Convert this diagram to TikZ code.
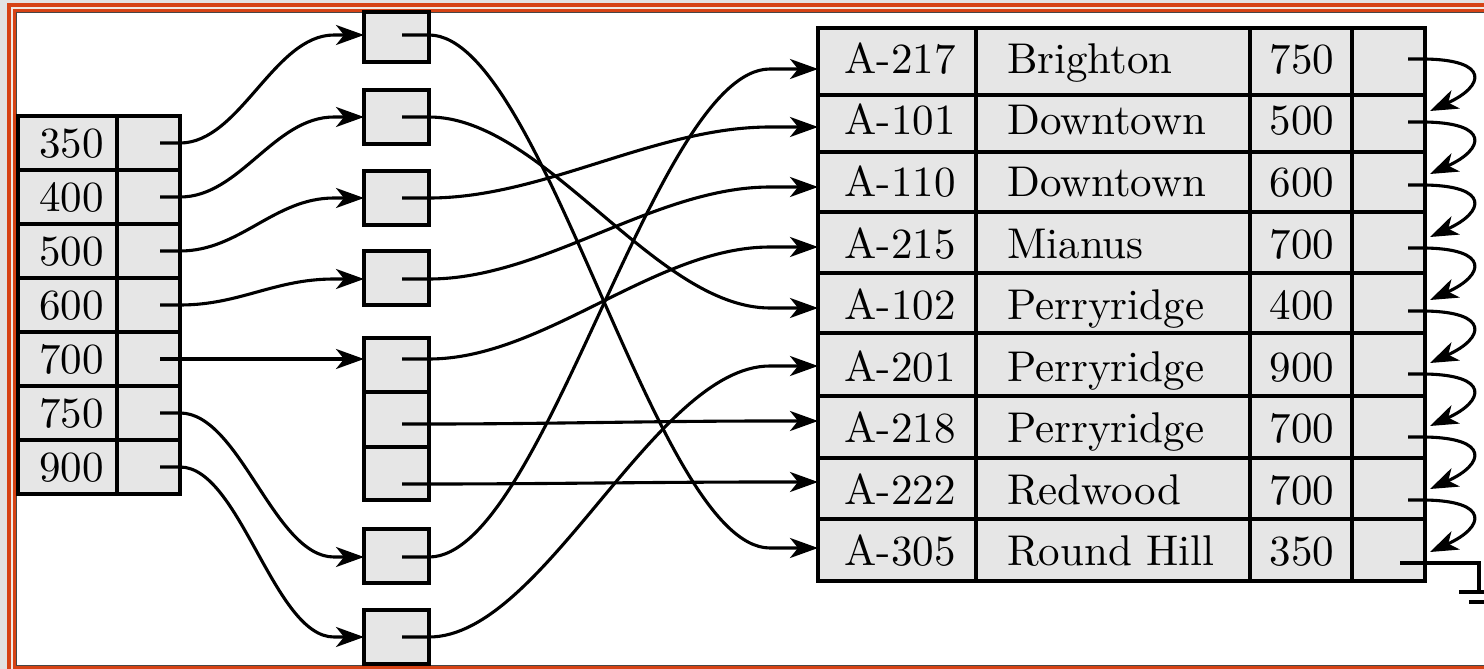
\documentclass[tikz,border=0pt]{standalone}
\usepackage{fontspec}
\setmainfont{lmroman10-regular}[Extension=.otf]
\usetikzlibrary{arrows.meta,calc}
\definecolor{cellgray}{RGB}{230,230,230}
\definecolor{framered}{RGB}{214,66,20}
\definecolor{bggray}{RGB}{226,226,226}
\definecolor{gapgray}{RGB}{240,232,226}
\definecolor{framedark}{RGB}{70,70,70}
\begin{document}
\begin{tikzpicture}[x=1pt,y=-1pt,
  cell/.style={draw=black, fill=cellgray, line width=3.4pt, inner sep=0pt, outer sep=0pt, anchor=north west},
  lbl/.style={font=\fontsize{43}{50}\selectfont, inner sep=0pt},
  ptr/.style={line width=3.2pt},
  link/.style={line width=3.1pt, -{Stealth[length=28pt,width=20pt,inset=8pt]}}]
\useasboundingbox (0,0) rectangle (1484,669);
% frame
\fill[bggray] (0,0) rectangle (1484,669);
\fill[framered] (7,3) rectangle (1500,700);
\fill[gapgray] (11,7) rectangle (1500,700);
\fill[framered] (13,9) rectangle (1500,669);
\fill[framedark] (16,12) rectangle (1500,665.6);
\fill[white] (17,13) rectangle (1500,664.6);
% index table
\foreach \v [count=\i] in {350,400,500,600,700,750,900}{
  \pgfmathsetmacro\yt{116+54*(\i-1)}
  \node[cell, minimum width=99pt, minimum height=54pt] (ik\i) at (18,\yt) {};
  \node[cell, minimum width=63pt, minimum height=54pt] (ip\i) at (117,\yt) {};
  \node[lbl, anchor=base east] (ikt\i) at (104,\yt+41.5) {\v};
  \coordinate (ips\i) at (160,\yt+27);
}
% buckets
\foreach \t/\h/\p [count=\i] in {12/50/35, 90/54/117, 171/54/198, 251/54/279, 338/54/359, 392/55/424, 447/53/484, 529/54/557, 610/54/637}{
  \node[cell, minimum width=65pt, minimum height=\h*1pt] (b\i) at (364,\t) {};
  \coordinate (bs\i) at (402,\p);
}
% main table
\foreach \a/\b/\c/\t/\h/\ay [count=\i] in {A-217/Brighton/750/28/67/69, A-101/Downtown/500/95/57/127, A-110/Downtown/600/152/60/187, A-215/Mianus/700/212/61/247, A-102/Perryridge/400/273/60/308, A-201/Perryridge/900/333/63/366, A-218/Perryridge/700/396/62/421, A-222/Redwood/700/458/61/482, A-305/Round Hill/350/519/62/548}{
  \node[cell, minimum width=158pt, minimum height=\h*1pt] (mA\i) at (818,\t) {};
  \node[cell, minimum width=274pt, minimum height=\h*1pt] (mB\i) at (976,\t) {};
  \node[cell, minimum width=102pt, minimum height=\h*1pt] (mC\i) at (1250,\t) {};
  \node[cell, minimum width=73pt, minimum height=\h*1pt] (mD\i) at (1352,\t) {};
  \pgfmathsetmacro\yb{59+61.5*(\i-1)+14.5}
  \node[lbl, anchor=base] (tA\i) at (900,\yb) {\a};
  \node[lbl, anchor=base west] (tB\i) at (1007,\yb) {\b};
  \node[lbl, anchor=base] (tC\i) at (1302,\yb) {\c};
  \coordinate (ms\i) at (1408,{59+63*(\i-1)});
  \coordinate (mq\i) at (1430,{59+63*(\i-2)+52});
  \coordinate (mt\i) at (818,\ay);
}
\draw[line width=4.4pt] (mA1.north west) rectangle (mD9.south east);
% index -> buckets
\foreach \i/\j in {1/1,2/2,3/3,4/4,5/5,6/8,7/9}{
  \draw[link] (ips\i) -- (ip\i.east |- ips\i) .. controls +(60,0) and +(-60,0) .. ($(b\j.west |- bs\j)+(-30,0)$) -- (b\j.west |- bs\j);
}
% buckets -> records
\foreach \j/\r in {1/9,2/5,3/2,4/3,5/4,6/7,7/8,8/1,9/6}{
  \draw[link] (bs\j) -- (b\j.east |- bs\j) .. controls +(115,0) and +(-115,0) .. ($(mt\r)+(-48,0)$) -- (mt\r);
}
% chain
\foreach \i [evaluate=\i as \n using int(\i+1)] in {1,...,8}{
  \draw[link] (ms\i) -- (mD\i.east |- ms\i) .. controls +(65,1) and +(55,-25) .. (mq\n);
}
% null pointer
\coordinate (g0) at (1400,563);
\coordinate (g1) at (1479,563);
\coordinate (g2) at (1479,592);
\draw[ptr] (g0) -- (g1) -- (g2);
\draw[ptr] ($(g2)+(-20,0)$) -- ($(g2)+(20,0)$);
\draw[ptr] ($(g2)+(-10,10)$) -- ($(g2)+(10,10)$);
\end{tikzpicture}
\end{document}
